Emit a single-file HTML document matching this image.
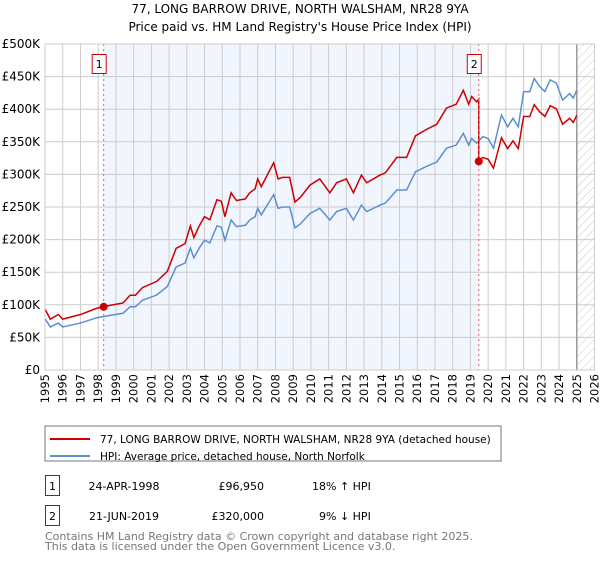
<!DOCTYPE html>
<html><head><meta charset="utf-8"><style>
body{margin:0;background:#fff;width:600px;height:560px;overflow:hidden;font-family:"DejaVu Sans","Liberation Sans",sans-serif}
</style></head><body>
<svg id="c" width="600" height="560" xmlns="http://www.w3.org/2000/svg" style="font-family:'DejaVu Sans','Liberation Sans',sans-serif">
<defs><pattern id="hatch" width="6" height="6" patternUnits="userSpaceOnUse" patternTransform="rotate(45)"><line x1="0" y1="0" x2="0" y2="6" stroke="#bbb" stroke-width="0.8"/></pattern></defs>
<text x="300" y="13" text-anchor="middle" font-size="12">77, LONG BARROW DRIVE, NORTH WALSHAM, NR28 9YA</text>
<text x="300" y="31" text-anchor="middle" font-size="12">Price paid vs. HM Land Registry's House Price Index (HPI)</text>
<g id="plot"></g>
<rect x="45" y="426" width="456" height="35" fill="#fff" stroke="#777"/>
<line x1="50" y1="439" x2="90" y2="439" stroke="#cc0000" stroke-width="2"/>
<text x="100" y="443" font-size="10.5">77, LONG BARROW DRIVE, NORTH WALSHAM, NR28 9YA (detached house)</text>
<line x1="50" y1="456" x2="90" y2="456" stroke="#5b8fd0" stroke-width="2"/>
<text x="100" y="460" font-size="10.5">HPI: Average price, detached house, North Norfolk</text>
<g>
<rect x="45.5" y="475.5" width="14" height="20" fill="#fff" stroke="#cc0000"/>
<text x="52.5" y="490" text-anchor="middle" font-size="11">1</text>
<text x="124" y="490" text-anchor="middle" font-size="11">24-APR-1998</text>
<text x="264" y="490" text-anchor="end" font-size="11">£96,950</text>
<text x="312" y="490" font-size="11">18% ↑ HPI</text></g>
<g>
<rect x="45.5" y="505.5" width="14" height="20" fill="#fff" stroke="#cc0000"/>
<text x="52.5" y="520" text-anchor="middle" font-size="11">2</text>
<text x="124" y="520" text-anchor="middle" font-size="11">21-JUN-2019</text>
<text x="264" y="520" text-anchor="end" font-size="11">£320,000</text>
<text x="319" y="520" font-size="11">9% ↓ HPI</text></g>
<text x="45" y="540" font-size="11" fill="#777">Contains HM Land Registry data © Crown copyright and database right 2025.</text>
<text x="45" y="550" font-size="11" fill="#777">This data is licensed under the Open Government Licence v3.0.</text>
</svg>
<script>
const hpiYears=[1995.0,1995.3,1995.75,1996.0,1997.0,1997.9,1998.7,1999.4,1999.8,2000.1,2000.5,2001.3,2001.9,2002.4,2002.9,2003.2,2003.4,2003.7,2004.0,2004.3,2004.7,2004.95,2005.15,2005.5,2005.8,2006.3,2006.55,2006.85,2007.0,2007.2,2007.9,2008.15,2008.4,2008.8,2009.1,2009.4,2009.95,2010.5,2011.07,2011.45,2012.0,2012.4,2012.85,2013.15,2013.9,2014.2,2014.85,2015.4,2015.9,2016.5,2017.1,2017.65,2018.2,2018.6,2018.9,2019.07,2019.35,2019.7,2020.0,2020.3,2020.75,2021.1,2021.4,2021.7,2022.0,2022.35,2022.6,2022.9,2023.2,2023.5,2023.85,2024.2,2024.6,2024.8,2025.0];
const hpiValues=[79,66,72,66,72,80,84,87,97,97,107,115,128,158,164,187,172,187,199,195,221,219,199,230,220,222,230,235,248,238,269,248,250,250,218,224,240,248,230,243,248,230,253,243,253,256,276,276,304,312,319,340,345,363,345,355,348,358,355,340,391,373,386,373,427,427,447,435,427,445,440,414,424,417,429];
const saleYears=[1998.31,2019.47];
const salePrices=[96.95,320];
const saleLabels=["1","2"];
const yTicks=[0,50,100,150,200,250,300,350,400,450,500];
const yTickLabels=["£0","£50K","£100K","£150K","£200K","£250K","£300K","£350K","£400K","£450K","£500K"];
const xTicks=[1995,1996,1997,1998,1999,2000,2001,2002,2003,2004,2005,2006,2007,2008,2009,2010,2011,2012,2013,2014,2015,2016,2017,2018,2019,2020,2021,2022,2023,2024,2025,2026];
const dataEnd=2025.0;
const NS="http://www.w3.org/2000/svg";
const X0=45,X1=594.5,Y0=370,Y1=44;
const xs=y=>X0+(y-1995)/(2026-1995)*(X1-X0);
const ys=v=>Y0-v/500*(Y0-Y1);
const g=document.getElementById('plot');
function mk(t,a){const e=document.createElementNS(NS,t);for(const k in a)e.setAttribute(k,a[k]);g.appendChild(e);return e;}
let e=mk('rect',{x:xs(saleYears[0]),y:Y1,width:xs(saleYears[1])-xs(saleYears[0]),height:Y0-Y1,fill:'#eef3fd',opacity:0.8});


e=mk('rect',{x:xs(dataEnd),y:Y1,width:X1-xs(dataEnd),height:Y0-Y1,fill:'url(#hatch)'});


yTicks.forEach((v,i)=>{
 e=mk('line',{x1:X0,x2:X1,y1:ys(v),y2:ys(v),stroke:'#ccc'});
 
 
 e=mk('text',{x:40,y:ys(v)+4,'text-anchor':'end','font-size':12});
 e.textContent=yTickLabels[i];
 
 
});
xTicks.forEach(y=>{
 e=mk('line',{x1:xs(y),x2:xs(y),y1:Y1,y2:Y0,stroke:'#ccc'});
 
 
 e=mk('text',{transform:`translate(${xs(y)+4},374) rotate(-90)`,'text-anchor':'end','font-size':11.5});
 e.textContent=y;
 
 
});
e=mk('line',{x1:xs(dataEnd),x2:xs(dataEnd),y1:Y1,y2:Y0,stroke:'#999','stroke-width':1.5});


function hpiAt(t){for(let i=1;i<hpiYears.length;i++){if(t<=hpiYears[i]){const f=(t-hpiYears[i-1])/(hpiYears[i]-hpiYears[i-1]);return hpiValues[i-1]+f*(hpiValues[i]-hpiValues[i-1]);}}return hpiValues[hpiValues.length-1];}
e=mk('polyline',{points:hpiYears.map((y,i)=>xs(y)+','+ys(hpiValues[i])).join(' '),fill:'none',stroke:'#5b8fd0','stroke-width':1.5});


const r0=salePrices[0]/hpiAt(saleYears[0]),r1=salePrices[1]/hpiAt(saleYears[1]);
let pts=[];
hpiYears.forEach((y,i)=>{
 if(y<saleYears[1])pts.push([y,hpiValues[i]*r0]);
});
pts.push([saleYears[1],hpiAt(saleYears[1])*r0]);
pts.push([saleYears[1],salePrices[1]]);
hpiYears.forEach((y,i)=>{if(y>saleYears[1])pts.push([y,hpiValues[i]*r1]);});
e=mk('polyline',{points:pts.map(p=>xs(p[0])+','+ys(p[1])).join(' '),fill:'none',stroke:'#cc0000','stroke-width':1.5});


saleYears.forEach((y,i)=>{
 e=mk('line',{x1:xs(y),x2:xs(y),y1:Y1,y2:Y0,stroke:'#e06060','stroke-dasharray':'2,3'});
 
 
 e=mk('circle',{cx:xs(y),cy:ys(salePrices[i]),r:4,fill:'#cc0000'});
 
 
 e=mk('rect',{x:xs(y)-11.5,y:54.5,width:14,height:19,fill:'#fff',stroke:'#cc0000'});
 
 
 e=mk('text',{x:xs(y)-4.5,y:68,'text-anchor':'middle','font-size':11});
 e.textContent=saleLabels[i];
 
 
});
e=mk('rect',{x:X0,y:Y1,width:X1-X0,height:Y0-Y1,fill:'none',stroke:'#ccc'});


</script>
</body></html>
